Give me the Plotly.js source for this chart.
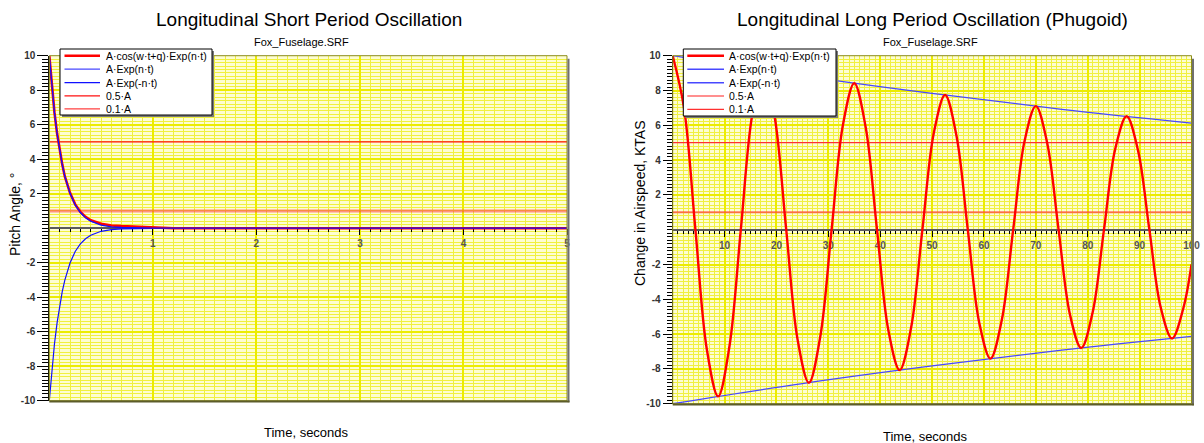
<!DOCTYPE html>
<html>
<head>
<meta charset="utf-8">
<script src="https://cdn.plot.ly/plotly-3.0.1.min.js"></script>
<style>html,body{margin:0;padding:0;background:#fff;}#chart{width:1204px;height:443px;}</style>
</head>
<body>
<div id="chart"></div>
<script>
// ---------- data ----------
const legendNames = ["A·cos(w·t+q)·Exp(n·t)", "A·Exp(n·t)", "A·Exp(-n·t)", "0.5·A", "0.1·A"];

// Short period (left)
const spTime   = [0, 0.025, 0.05, 0.075, 0.1, 0.125, 0.15, 0.175, 0.2, 0.25, 0.3, 0.35, 0.4, 0.5, 0.6, 0.7, 0.8, 0.85, 0.9, 1.0, 1.2, 2, 3, 4, 5];
const spOsc    = [10, 8.2, 6.7, 5.5, 4.5, 3.7, 3.0, 2.5, 2.05, 1.38, 0.95, 0.66, 0.46, 0.26, 0.16, 0.12, 0.1, 0.08, 0.04, 0.02, 0, 0, 0, 0, 0];
const spEnvPos = [10, 8.19, 6.7, 5.49, 4.49, 3.68, 3.01, 2.47, 2.02, 1.35, 0.91, 0.61, 0.41, 0.18, 0.08, 0.04, 0.02, 0.015, 0.01, 0.005, 0, 0, 0, 0, 0];
const spEnvNeg = [-10, -8.19, -6.7, -5.49, -4.49, -3.68, -3.01, -2.47, -2.02, -1.35, -0.91, -0.61, -0.41, -0.18, -0.08, -0.04, -0.02, -0.015, -0.01, -0.005, 0, 0, 0, 0, 0];
const spHalfT = [0, 5], spHalf = [5, 5];
const spTenthT = [0, 5], spTenth = [1, 1];

// Phugoid (right)
const phTime = [0, 2.19, 4.38, 6.56, 8.75, 10.94, 13.13, 15.31, 17.5, 19.69, 21.88, 24.06, 26.25, 28.44, 30.63, 32.81,
                35, 37.19, 39.38, 41.56, 43.75, 45.94, 48.13, 50.31, 52.5, 54.69, 56.88, 59.06, 61.25, 63.44, 65.63, 67.81,
                70, 72.19, 74.38, 76.56, 78.75, 80.94, 83.13, 85.31, 87.5, 89.69, 91.88, 94.06, 96.25, 98.44, 100];
const phOsc  = [10, 6.99, 0, -6.84, -9.58, -6.70, 0, 6.56, 9.18, 6.42, 0, -6.29, -8.80, -6.15, 0, 6.02,
                8.42, 5.90, 0, -5.77, -8.07, -5.65, 0, 5.53, 7.74, 5.41, 0, -5.30, -7.41, -5.18, 0, 5.08,
                7.10, 4.97, 0, -4.86, -6.80, -4.76, 0, 4.66, 6.52, 4.56, 0, -4.46, -6.25, -4.5, -2.0];
const phEnvT   = [0, 25, 50, 75, 100];
const phEnvPos = [10, 8.84, 7.83, 6.92, 6.13];
const phEnvNeg = [-10, -8.84, -7.83, -6.92, -6.13];
const phHalfT = [0, 100], phHalf = [5, 5];
const phTenthT = [0, 100], phTenth = [1, 1];

const xTicksL = [1, 2, 3, 4, 5];
const xTicksR = [10, 20, 30, 40, 50, 60, 70, 80, 90, 100];
const yTicks = [-10, -8, -6, -4, -2, 2, 4, 6, 8, 10];

// ---------- layout helpers ----------
const W = 1204, H = 443;
const px = x => x / W, py = y => 1 - y / H;
const FONT = 'Arial, "Liberation Sans", sans-serif';
const L = {x0: 49.3, x1: 567, y0: 55.7, y1: 400.7};
const R = {x0: 672.7, x1: 1191.5, y0: 55.7, y1: 403.7};

const RED = '#ff0000', BLUE = '#1010ff', BLUE2 = '#4848ff';

function line(x, y, xa, ya, color, width, shape) {
  return {x: x, y: y, xaxis: xa, yaxis: ya, type: 'scatter', mode: 'lines',
          line: {color: color, width: width, shape: shape || 'linear'}, hoverinfo: 'skip', showlegend: false};
}

const traces = [
  line(spHalfT, spHalf, 'x', 'y', '#ff1010', 1.3),
  line(spTenthT, spTenth, 'x', 'y', 'rgba(255,60,60,0.55)', 3),
  line(spTime, spEnvNeg, 'x', 'y', BLUE, 1.2),
  line(spTime, spOsc, 'x', 'y', RED, 2.6),
  line(spTime, spEnvPos, 'x', 'y', BLUE, 1.3),

  line(phHalfT, phHalf, 'x2', 'y2', '#ff3030', 1.3),
  line(phTenthT, phTenth, 'x2', 'y2', 'rgba(255,60,60,0.7)', 2),
  line(phEnvT, phEnvPos, 'x2', 'y2', BLUE2, 1.3, 'spline'),
  line(phEnvT, phEnvNeg, 'x2', 'y2', BLUE2, 1.3, 'spline'),
  line(phTime, phOsc, 'x2', 'y2', RED, 2.4, 'spline')
];

function xAxis(dom, ydom, ticks, rng, minorDt) {
  return {
    domain: [px(dom.x0), px(dom.x1)], range: rng, anchor: 'free',
    position: ydom[0] + 0.5 * (ydom[1] - ydom[0]),
    tickmode: 'array', tickvals: ticks, ticktext: ticks.map(String),
    ticks: 'outside', ticklen: 6, tickcolor: '#000', tickwidth: 1,
    tickfont: {family: FONT, size: 10, color: '#555', weight: 'bold'},
    showline: true, linecolor: '#5a5a5a', linewidth: 2, zeroline: false,
    showgrid: true, gridcolor: '#ecec00', gridwidth: 2, layer: 'below traces',
    minor: {tickmode: 'linear', tick0: 0, dtick: minorDt, ticks: 'outside', ticklen: 3, tickcolor: '#000',
            showgrid: true, gridcolor: '#f0f040', gridwidth: 1},
    fixedrange: true
  };
}
function yAxis(ydom, anchor, ticklen) {
  return {
    domain: ydom, range: [-10, 10], anchor: anchor,
    tickmode: 'array', tickvals: yTicks, ticktext: yTicks.map(String),
    ticks: 'outside', ticklen: ticklen, tickcolor: '#000', tickwidth: 1,
    tickfont: {family: FONT, size: 10, color: '#333', weight: 'bold'},
    showline: true, linecolor: '#000', linewidth: 1, zeroline: false,
    showgrid: true, gridcolor: '#ecec00', gridwidth: 2,
    minor: {tickmode: 'linear', tick0: 0, dtick: 0.2, ticks: 'outside', ticklen: Math.round(ticklen * 0.55), tickcolor: '#000',
            showgrid: true, gridcolor: '#f0f040', gridwidth: 1},
    fixedrange: true
  };
}

const yDomL = [py(L.y1), py(L.y0)];
const yDomR = [py(R.y1), py(R.y0)];

const shapes = [];
const annotations = [];
function frame(d, xr, yr) {
  shapes.push({type: 'rect', xref: xr + ' domain', yref: yr + ' domain', x0: 0, x1: 1, y0: 0, y1: 1,
               line: {color: '#8c8c1a', width: 1}, layer: 'above'});
  shapes.push({type: 'line', xref: 'paper', yref: 'paper', x0: px(d.x1 + 1.5), x1: px(d.x1 + 1.5), y0: py(d.y0 + 3), y1: py(d.y1 + 1.5),
               line: {color: '#707070', width: 2}, layer: 'above'});
  shapes.push({type: 'line', xref: 'paper', yref: 'paper', x0: px(d.x0), x1: px(d.x1 + 2.5), y0: py(d.y1 + 0.8), y1: py(d.y1 + 0.8),
               line: {color: '#5c5c2a', width: 2}, layer: 'above'});
}
frame(L, 'x', 'y');
frame(R, 'x2', 'y2');

function ann(text, x, y, size, extra) {
  annotations.push(Object.assign({text: text, xref: 'paper', yref: 'paper', x: px(x), y: py(y),
    xanchor: 'center', yanchor: 'middle', showarrow: false,
    font: {family: FONT, size: size, color: '#000'}}, extra || {}));
}
ann('Longitudinal Short Period Oscillation', 309, 20, 19);
ann('Fox_Fuselage.SRF', 301, 42, 11);
ann('Longitudinal Long Period Oscillation (Phugoid)', 932, 20, 19);
ann('Fox_Fuselage.SRF', 930, 42, 11);
ann('Time, seconds', 306, 432, 13);
ann('Time, seconds', 925, 436, 13);
ann('Pitch Angle, °', 15, 215, 14, {textangle: -90});
ann('Change in Airspeed, KTAS', 640, 203, 14, {textangle: -90});

// legend boxes (drawn to match compact original legend)
const legStyles = {
  L: [[RED, 2.6], [BLUE2, 1.3], [BLUE, 1.3], ['#ff1010', 1.2], ['#ff4040', 1.2]],
  R: [[RED, 2.6], [BLUE2, 1.5], [BLUE2, 1.5], ['#ff2020', 1.2], ['#ff3030', 1.2]]
};
function legend(bx0, bx1, by0, by1, lx0, lx1, tx, ys, styles) {
  shapes.push({type: 'rect', xref: 'paper', yref: 'paper', x0: px(bx0 + 2), x1: px(bx1 + 2), y0: py(by0 + 2), y1: py(by1 + 2),
               fillcolor: '#7a7a7a', line: {width: 0}, layer: 'above'});
  shapes.push({type: 'rect', xref: 'paper', yref: 'paper', x0: px(bx0), x1: px(bx1), y0: py(by0), y1: py(by1),
               fillcolor: '#ffffff', line: {color: '#000', width: 1}, layer: 'above'});
  ys.forEach((y, i) => {
    shapes.push({type: 'line', xref: 'paper', yref: 'paper', x0: px(lx0), x1: px(lx1), y0: py(y), y1: py(y),
                 line: {color: styles[i][0], width: styles[i][1]}, layer: 'above'});
    annotations.push({text: legendNames[i], xref: 'paper', yref: 'paper', x: px(tx), y: py(y), xanchor: 'left', yanchor: 'middle',
                      showarrow: false, font: {family: FONT, size: 10.5, color: '#000'}});
  });
}
legend(60, 212, 49, 115, 64.5, 100, 104, [55.7, 69.2, 82.6, 95.8, 108.8], legStyles.L);
legend(683.3, 836, 49, 116, 687.3, 724, 727.5, [55.7, 69.3, 82.7, 96, 109.3], legStyles.R);

const layout = {
  width: W, height: H, margin: {l: 0, r: 0, t: 0, b: 0},
  paper_bgcolor: '#ffffff', plot_bgcolor: '#fdfdd2', showlegend: false,
  xaxis: xAxis(L, yDomL, xTicksL, [0, 5], 0.1),
  yaxis: yAxis(yDomL, 'x', 11),
  xaxis2: xAxis(R, yDomR, xTicksR, [0, 100], 1),
  yaxis2: yAxis(yDomR, 'x2', 9),
  shapes: shapes, annotations: annotations
};

Plotly.newPlot('chart', traces, layout, {staticPlot: true, displayModeBar: false});
</script>
</body>
</html>
